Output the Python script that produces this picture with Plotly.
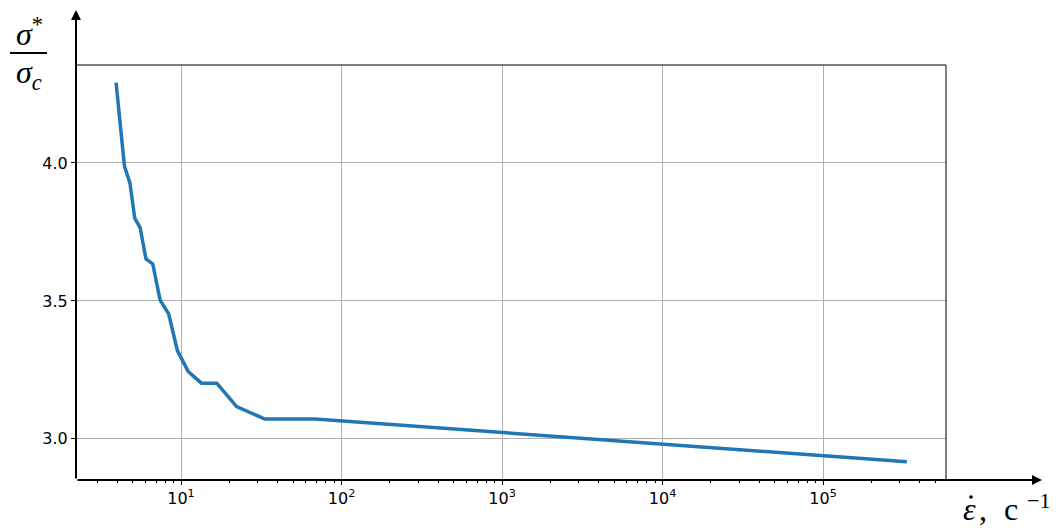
import numpy as np
import plotly.graph_objects as go

# strain rate, 1/s
strain_rate = [3.94, 4.44, 4.81, 5.15, 5.56, 6.05, 6.67, 7.4, 8.38, 9.49,
               11.1, 13.4, 16.7, 22.2, 33.3, 68.4, 333000]
# normalised strength sigma*/sigma_c
stress_ratio = [4.291, 3.989, 3.926, 3.800, 3.766, 3.652, 3.634, 3.504, 3.453,
                3.320, 3.244, 3.202, 3.202, 3.117, 3.072, 3.072, 2.917]

x_ticks = [10, 100, 1000, 10000, 100000]
x_tick_text = ["10<sup>1</sup>", "10<sup>2</sup>", "10<sup>3</sup>",
               "10<sup>4</sup>", "10<sup>5</sup>"]
y_ticks = [3.0, 3.5, 4.0]
y_tick_text = ["3.0", "3.5", "4.0"]

# minor ticks at 2..9 within each decade
x_minor = [m * 10 ** d for d in range(0, 6) for m in range(2, 10)]

W, H = 1062, 532
L, R, T, B = 76, 116, 65, 52
plot_h = H - T - B
plot_w = W - L - R

fig = go.Figure()
fig.add_trace(go.Scatter(
    x=strain_rate, y=stress_ratio, mode="lines",
    line=dict(color="#1f77b4", width=3.5),
    showlegend=False,
))

tick_font = dict(family="DejaVu Sans", size=16, color="black")
fig.update_layout(
    width=W, height=H,
    margin=dict(l=L, r=R, t=T, b=B),
    paper_bgcolor="white", plot_bgcolor="white",
    xaxis=dict(
        type="log", range=[0.3458, 5.766],
        tickmode="array", tickvals=x_ticks, ticktext=x_tick_text,
        ticks="outside", ticklen=4, tickwidth=1, tickcolor="black",
        tickfont=tick_font,
        showgrid=True, gridcolor="#b0b0b0", gridwidth=1,
        zeroline=False, showline=False,
        minor=dict(tickmode="array", tickvals=x_minor, ticks="outside",
                   ticklen=2, tickwidth=1, tickcolor="black", showgrid=False),
    ),
    yaxis=dict(
        range=[2.851, 4.355], tickmode="array",
        tickvals=y_ticks, ticktext=y_tick_text,
        ticks="outside", ticklen=4, tickwidth=1, tickcolor="black",
        tickfont=tick_font,
        showgrid=True, gridcolor="#b0b0b0", gridwidth=1,
        zeroline=False, showline=False,
    ),
)

# thin frame on top and right
fig.add_shape(type="line", xref="paper", yref="paper", x0=0, x1=1, y0=1, y1=1,
              line=dict(color="black", width=1))
fig.add_shape(type="line", xref="paper", yref="paper", x0=1, x1=1, y0=0, y1=1,
              line=dict(color="black", width=1))

# axis arrows
top_y = 1 + (T - 10) / plot_h
right_x = 1 + (1042 - (L + plot_w)) / plot_w
fig.add_annotation(x=0, y=top_y, xref="paper", yref="paper", text="",
                   showarrow=True, ax=0, ay=H - B - 10, axref="pixel", ayref="pixel",
                   arrowhead=2, arrowsize=1, arrowwidth=2, arrowcolor="black")
fig.add_annotation(x=right_x, y=0, xref="paper", yref="paper", text="",
                   showarrow=True, ax=-(1042 - L), ay=0, axref="pixel", ayref="pixel",
                   arrowhead=2, arrowsize=1, arrowwidth=2, arrowcolor="black")

lab_font = dict(family="Liberation Serif", size=32, color="black")
sup_font = dict(family="Liberation Serif", size=22, color="black")


def px(xp):
    return (xp - L) / plot_w


def py(yp):
    return (H - B - yp) / plot_h


def label(text, x, y, font=lab_font):
    fig.add_annotation(x=px(x), y=py(y), xref="paper", yref="paper",
                       text=text, showarrow=False, font=font,
                       xanchor="center", yanchor="middle")


# y label as a fraction
label("<i>σ</i><sup>*</sup>", 29, 32)
fig.add_shape(type="line", xref="paper", yref="paper",
              x0=px(10), x1=px(47), y0=py(53), y1=py(53),
              line=dict(color="black", width=2))
label("<i>σ</i><sub><i>c</i></sub>", 29, 74)

# x label: epsilon with a dot above (drawn as a small disc), then units
label("<i>ε</i>", 969, 509)
fig.add_shape(type="circle", xref="paper", yref="paper",
              xsizemode="pixel", ysizemode="pixel",
              xanchor=px(971), yanchor=py(497),
              x0=-1.8, x1=1.8, y0=-1.8, y1=1.8,
              fillcolor="black", line=dict(width=0))
label(",", 983, 509)
label("c", 1011, 509)
label("−1", 1038, 500, sup_font)

fig.write_html("out.html")
